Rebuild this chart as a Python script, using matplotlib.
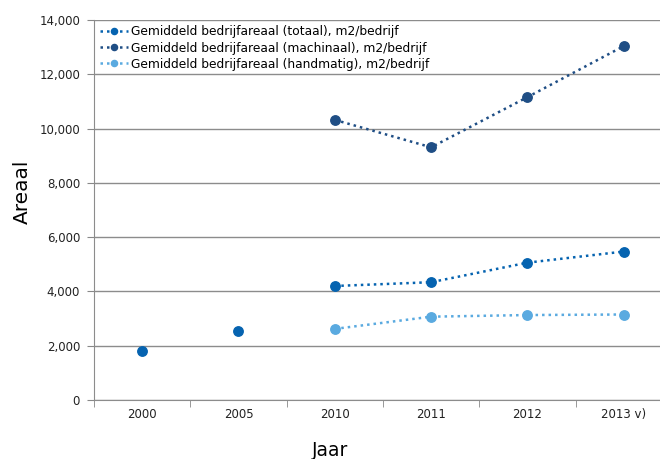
import matplotlib
matplotlib.use("Agg")
import matplotlib.pyplot as plt
from matplotlib.ticker import FuncFormatter, FixedLocator

categories = ["2000", "2005", "2010", "2011", "2012", "2013 v)"]
totaal = [1820, 2560, 4200, 4340, 5060, 5470]
machinaal = [None, None, 10320, 9310, 11160, 13040]
handmatig = [None, None, 2620, 3070, 3130, 3150]

c_tot = "#0563B0"
c_mach = "#1F4E85"
c_hand = "#5AAAE0"

fig = plt.figure(figsize=(6.6, 4.59), dpi=100)
ax = fig.add_axes([94/660, 1-400/459, 578/660, 380/459])

x = list(range(len(categories)))

def pts(vals):
    xs = [i for i, v in zip(x, vals) if v is not None]
    ys = [v for v in vals if v is not None]
    return xs, ys

lw = 1.8
ms = 6.8
ls = (0, (1, 1.6))
ax.plot(x[:2], totaal[:2], linestyle="none", marker="o", color=c_tot, ms=ms, zorder=3)
ax.plot(x[2:], totaal[2:], linestyle=ls, lw=lw, marker="o", color=c_tot, ms=ms,
        label="Gemiddeld bedrijfareaal (totaal), m2/bedrijf", zorder=3)
xs, ys = pts(machinaal)
ax.plot(xs, ys, linestyle=ls, lw=lw, marker="o", color=c_mach, ms=ms,
        label="Gemiddeld bedrijfareaal (machinaal), m2/bedrijf", zorder=3)
xs, ys = pts(handmatig)
ax.plot(xs, ys, linestyle=ls, lw=lw, marker="o", color=c_hand, ms=ms,
        label="Gemiddeld bedrijfareaal (handmatig), m2/bedrijf", zorder=3)

ax.set_xlim(-0.5, 5.5)
ax.set_ylim(0, 14000)
ax.set_yticks(range(0, 14001, 2000))
ax.yaxis.set_major_formatter(FuncFormatter(lambda v, p: f"{int(v):,}"))
ax.set_xticks(x)
ax.set_xticklabels(categories, va="baseline")
ax.xaxis.set_minor_locator(FixedLocator([i - 0.5 for i in range(len(categories) + 1)]))
ax.tick_params(axis="x", which="major", length=0, labelsize=8.5, pad=13, colors="#222222")
ax.tick_params(axis="x", which="minor", length=5, color="#888888", direction="out")
ax.tick_params(axis="y", length=5, color="#888888", labelsize=8.5, pad=5, labelcolor="#222222")

ax.grid(axis="y", color="#8c8c8c", lw=1.0)
ax.set_axisbelow(True)
for s in ["top", "right"]:
    ax.spines[s].set_visible(False)
ax.spines["left"].set_color("#8c8c8c")
ax.spines["bottom"].set_color("#8c8c8c")

ax.set_ylabel("Areaal", fontsize=14.5)
ax.yaxis.set_label_coords(-0.107, 0.547)
fig.text(330/660, 1-451/459, "Jaar", fontsize=13.5, ha="center", va="center")

leg = ax.legend(loc="upper left", bbox_to_anchor=(0.0, 1.0), frameon=False, fontsize=8.8,
                handlelength=2.3, handletextpad=0.25, labelspacing=0.25, borderaxespad=0.05,
                markerscale=0.65)

fig.savefig("out.png", dpi=100)
